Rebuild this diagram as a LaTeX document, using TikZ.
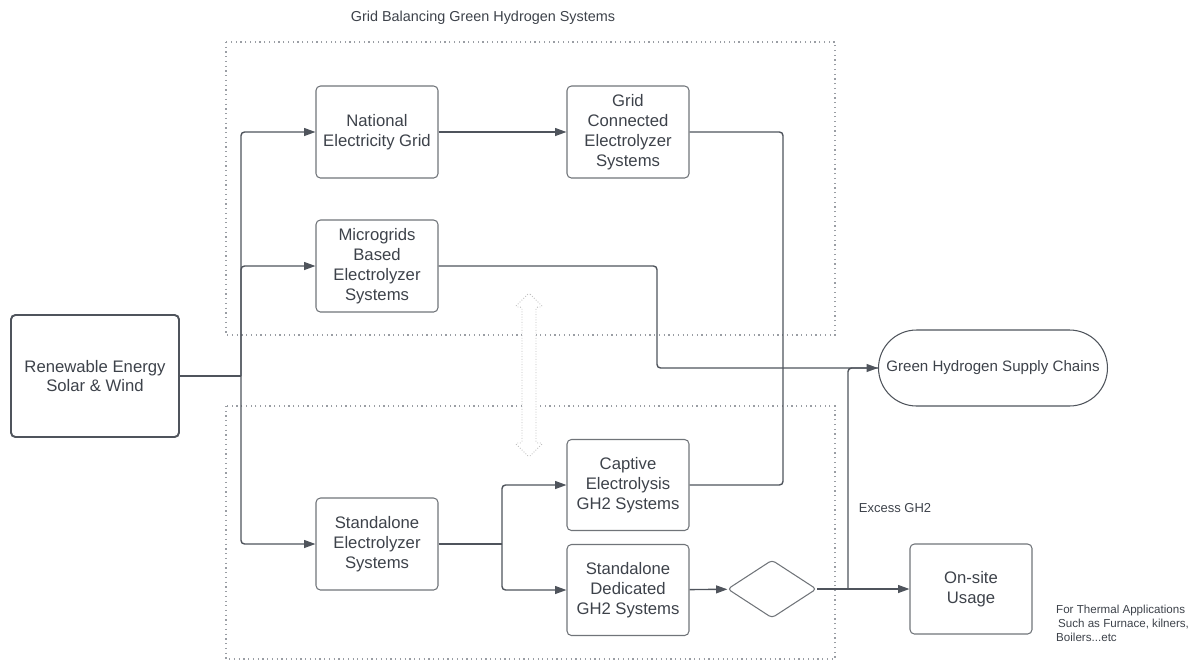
\documentclass[tikz,border=0pt]{standalone}
\usepackage{fontspec}
\setmainfont{Liberation Sans}
\usetikzlibrary{arrows.meta,shapes.geometric}
\definecolor{ink}{HTML}{3d424a}
\definecolor{wire}{HTML}{4f545c}
\definecolor{frame}{HTML}{707479}
\definecolor{zonecol}{HTML}{9a9ea4}

\begin{document}
\begin{tikzpicture}[x=0.02cm, y=-0.02cm,
		font=\fontsize{9.5}{11.3}\selectfont, text=ink,
		box/.style={draw=frame, line width=0.6pt, rounded corners=2.5pt, align=center,
			minimum width=2.44cm, minimum height=1.84cm, inner sep=1pt},
		zone/.style={draw=zonecol, dotted, line width=0.7pt},
		line/.style={draw=wire, line width=0.8pt, rounded corners=2pt},
		conn/.style={line, -{Triangle[length=6.5pt, width=4.5pt]}},
		dblarrow/.style={draw=black!25, densely dotted, fill=white, line width=0.5pt, rounded corners=1pt},
	]
	\useasboundingbox (0,0) rectangle (1194,660);

	% zones
	\draw[zone] (226,42) rectangle (835,335);
	\draw[zone] (226,406) rectangle (835,659);
	\node (title) at (483,18) {\fontsize{8.2}{10}\selectfont Grid Balancing Green Hydrogen Systems};

	% nodes
	\node[box, draw=wire, line width=1.1pt, minimum width=3.36cm, minimum height=2.44cm] (ren) at (95,376) {Renewable Energy\\Solar \& Wind};
	\node[box] (nat) at (377,132) {National\\Electricity Grid};
	\node[box] (grid) at (628,132) {Grid\\Connected\\Electrolyzer\\Systems};
	\node[box] (micro) at (377,266) {Microgrids\\Based\\Electrolyzer\\Systems};
	\node[box] (stand) at (377,544) {Standalone\\Electrolyzer\\Systems};
	\node[box, minimum height=1.82cm] (capt) at (628,485) {Captive\\Electrolysis\\GH2 Systems};
	\node[box, minimum height=1.82cm] (ded) at (628,590) {Standalone\\Dedicated\\GH2 Systems};
	\node[draw=frame, line width=0.6pt, shape=diamond, rounded corners=2pt, inner sep=0pt,
		minimum width=1.78cm, minimum height=1.16cm] (dec) at (772,589) {};
	\node[box, minimum height=1.8cm] (use) at (971,589) {On-site\\Usage};
	\node[draw=wire, line width=0.6pt, rounded corners=0.76cm, minimum width=4.58cm,
		minimum height=1.52cm, font=\fontsize{8.6}{10}\selectfont] (supply) at (993,368) {Green Hydrogen Supply Chains};
	\node[font=\fontsize{7.4}{9}\selectfont] (excess) at (895,508) {Excess GH2};
	\node[anchor=west, align=left, font=\fontsize{6.6}{8}\selectfont] (thermal) at (1050,623)
		{For Thermal Applications\\ \,Such as Furnace, kilners,\\Boilers...etc};

	% hollow double arrow between zones
	\draw[dblarrow] (529,293) -- (543,307) -- (536,307) -- (536,443) -- (543,443) -- (529,457)
		-- (515,443) -- (522,443) -- (522,307) -- (515,307) -- cycle;

	% connectors
	\coordinate (split1) at (241,376);
	\coordinate (split2) at (502,544);
	\coordinate (busA) at (783,368);
	\coordinate (mgturn) at (657,368);
	\coordinate (exc) at (848,589);
	\draw[line] (ren.east) -- (split1);
	\draw[conn] (split1) |- (nat.west);
	\draw[conn] (split1) |- (micro.west);
	\draw[conn] (split1) |- (stand.west);
	\draw[conn] (nat) -- (grid);
	\draw[line] (grid.east) -| (busA);
	\draw[line] (capt.east) -| (busA);
	\draw[conn] (micro.east) -| (mgturn) -- (supply.west);
	\draw[line] (stand.east) -- (split2);
	\draw[conn] (split2) |- (capt.west);
	\draw[conn] (split2) |- (ded.west);
	\draw[conn] (ded) -- (dec);
	\draw[conn] (dec) -- (use);
	\draw[line] (exc) |- (supply.west);
\end{tikzpicture}
\end{document}
